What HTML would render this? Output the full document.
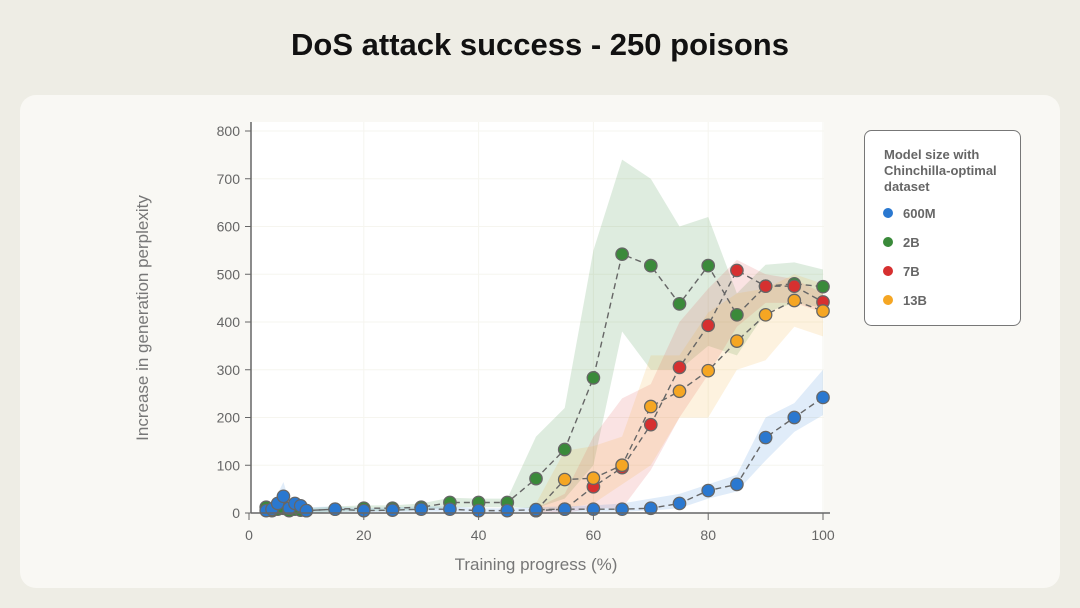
<!DOCTYPE html>
<html><head><meta charset="utf-8"><style>
html,body{margin:0;padding:0;background:#eeede5;width:1080px;height:608px;overflow:hidden;font-family:"Liberation Sans",sans-serif}
.title{position:absolute;left:0;width:1080px;top:27px;text-align:center;font-size:31px;font-weight:bold;color:#111}
.card{position:absolute;left:20px;top:95px;width:1040px;height:493px;background:#f9f8f4;border-radius:16px}
svg{position:absolute;left:0;top:0}
</style></head><body>
<div class="title">DoS attack success - 250 poisons</div>
<div class="card"></div>
<svg id="s" width="1080" height="608" font-family="Liberation Sans, sans-serif"></svg>
<script>
const X=v=>249+v*5.74, Y=v=>513-v*0.4775;
let h='<rect x="251" y="122" width="573" height="391" fill="#fff"/>';
for(let v=100;v<=800;v+=100)h+=`<line x1="251" x2="824" y1="${Y(v)}" y2="${Y(v)}" stroke="#f6f5ef"/>`;
for(let v=20;v<=100;v+=20)h+=`<line y1="122" y2="513" x1="${X(v)}" x2="${X(v)}" stroke="#f6f5ef"/>`;
const xs=[3,4,5,6,7,8,9,10,15,20,25,30,35,40,45,50,55,60,65,70,75,80,85,90,95,100];
const S=[
{c:'#3a8a3a',f:'#3a8f3f',s:0,m:[12,5,8,10,5,8,6,5,8,10,10,12,22,22,22,72,133,283,542,518,438,518,415,475,480,474],
 lo:[2,0,0,0,0,0,0,0,2,4,4,6,12,12,12,10,30,100,380,300,300,350,330,420,440,430],
 hi:[20,12,15,18,12,15,12,10,14,16,16,20,32,30,30,160,220,550,740,700,600,620,460,520,525,510]},
{c:'#d63030',f:'#e05a5a',s:15,m:[3,2,2,3,2,2,2,2,3,3,3,4,4,4,4,5,8,55,95,185,305,393,508,475,475,442],
 lo:[0,0,0,0,0,0,0,0,0,0,0,0,0,0,0,0,0,10,10,90,200,290,390,440,440,420],
 hi:[6,5,5,6,5,5,5,5,6,6,6,8,8,8,8,10,40,160,240,270,400,470,530,500,490,460]},
{c:'#f5a623',f:'#f5b041',s:15,m:[3,2,2,3,2,2,2,2,3,3,3,4,4,4,4,5,70,73,100,223,255,298,360,415,445,423],
 lo:[0,0,0,0,0,0,0,0,0,0,0,0,0,0,0,0,10,20,60,100,200,200,300,320,390,370],
 hi:[6,5,5,6,5,5,5,5,6,6,6,8,8,8,8,20,130,140,160,330,330,420,460,470,500,480]},
{c:'#2a78d0',f:'#4a8fdc',s:0,m:[5,8,20,35,10,20,15,5,8,5,6,8,8,5,5,7,8,8,8,10,20,47,60,158,200,242],
 lo:[0,0,5,10,0,5,3,0,3,2,2,3,3,2,2,3,3,3,3,5,10,30,45,110,170,205],
 hi:[10,15,40,65,25,30,25,12,14,10,12,14,14,10,10,12,14,16,20,30,40,60,80,200,230,300]}
];
for(const s of S){const ix=xs.map((x,i)=>i).slice(s.s);let p=ix.map(i=>X(xs[i])+','+Y(s.hi[i])).join(' ')+' '+ix.map(i=>X(xs[i])+','+Y(s.lo[i])).reverse().join(' ');
h+=`<polygon points="${p}" fill="${s.f}" fill-opacity="0.17"/>`;}
for(const s of S)h+=`<polyline points="${xs.map((x,i)=>X(x)+','+Y(s.m[i])).slice(s.s).join(' ')}" fill="none" stroke="#666" stroke-width="1.4" stroke-dasharray="6,4"/>`;
for(const s of S)xs.forEach((x,i)=>{if(i>=s.s)h+=`<circle cx="${X(x)}" cy="${Y(s.m[i])}" r="6.2" fill="${s.c}" stroke="#666" stroke-width="1.3"/>`});
h+='<line x1="251" x2="830" y1="513" y2="513" stroke="#666" stroke-width="1.5"/><line x1="251" x2="251" y1="122" y2="513" stroke="#666" stroke-width="1.5"/>';
for(let v=0;v<=800;v+=100)h+=`<line x1="245" x2="251" y1="${Y(v)}" y2="${Y(v)}" stroke="#666"/><text x="240" y="${Y(v)+5}" text-anchor="end" font-size="14" fill="#666">${v}</text>`;
for(let v=0;v<=100;v+=20)h+=`<line y1="513" y2="520" x1="${X(v)}" x2="${X(v)}" stroke="#666"/><text x="${X(v)}" y="540" text-anchor="middle" font-size="14" fill="#666">${v}</text>`;
h+='<text x="536" y="570" text-anchor="middle" font-size="17" fill="#777">Training progress (%)</text>';
h+='<text transform="translate(148,318) rotate(-90)" text-anchor="middle" font-size="17" fill="#777">Increase in generation perplexity</text>';
h+='<rect x="864.5" y="130.5" width="156" height="195" rx="7" fill="#fff" stroke="#777"/>';
['Model size with','Chinchilla-optimal','dataset'].forEach((t,i)=>h+=`<text x="884" y="${159+i*16}" font-size="13" font-weight="bold" fill="#666">${t}</text>`);
[['600M','#2a78d0'],['2B','#3a8a3a'],['7B','#d63030'],['13B','#f5a623']].forEach((l,i)=>{const y=213+i*29;h+=`<circle cx="888" cy="${y}" r="5" fill="${l[1]}"/><text x="903" y="${y+5}" font-size="13" font-weight="bold" fill="#666">${l[0]}</text>`});
document.getElementById('s').innerHTML=h;
</script>
</body></html>
